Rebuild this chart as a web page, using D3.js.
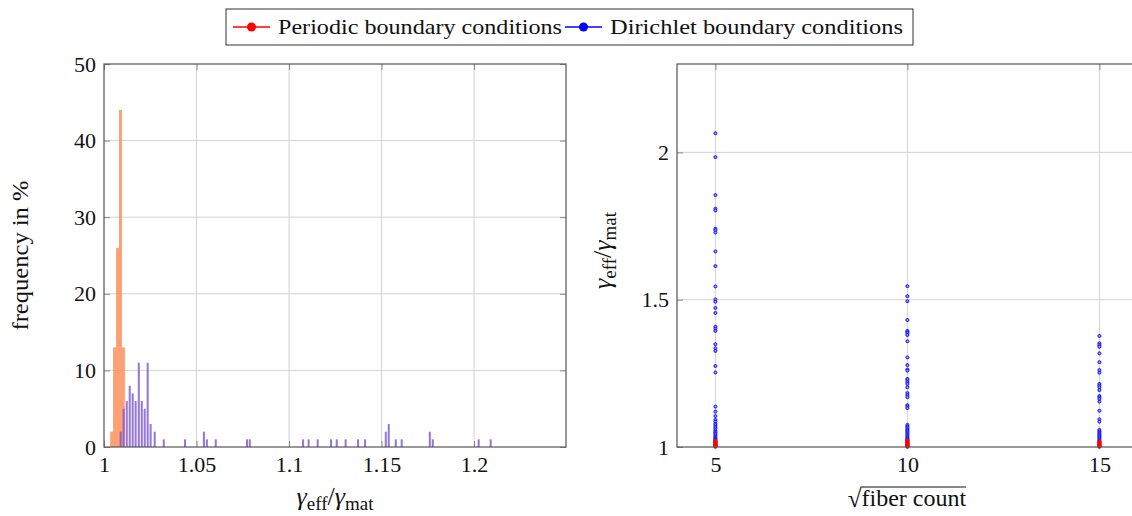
<!DOCTYPE html>
<html>
<head>
<meta charset="utf-8">
<script src="https://cdn.jsdelivr.net/npm/d3@7"></script>
<style>
  body { margin: 0; background: #fff; }
  svg text { font-family: "Liberation Serif", "DejaVu Serif", serif !important; fill: #111; }
</style>
</head>
<body>
<svg id="chart" width="1132" height="516"></svg>
<script>
// ---- histogram (left) ----
const periodicBins = [1.0041, 1.0057, 1.0073, 1.0089, 1.0105];
const periodicFreq = [2, 13, 26, 44, 13];
const dirichletBins = [1.0090, 1.0106, 1.0123, 1.0139, 1.0155, 1.0171, 1.0188, 1.0204, 1.0220, 1.0236, 1.0252, 1.0274, 1.0323,
  1.0438, 1.0540, 1.0556, 1.0604, 1.0773, 1.0788, 1.1076, 1.1106, 1.1155, 1.1227, 1.1258, 1.1306, 1.1373, 1.1411,
  1.1523, 1.1539, 1.1577, 1.1609, 1.1761, 1.1777, 1.2025, 1.2090];
const dirichletFreq = [2, 5, 6, 8, 7, 6, 11, 6, 5, 11, 3, 2, 1,
  1, 2, 1, 1, 1, 1, 1, 1, 1, 1, 1, 1, 1, 1,
  2, 3, 1, 1, 2, 1, 1, 1];
const histXTicks = [1, 1.05, 1.1, 1.15, 1.2];
const histYTicks = [0, 10, 20, 30, 40, 50];

// ---- scatter (right) ----
const fiberCounts = [5, 10, 15];
const periodicRatio = {
  5: [1.001, 1.003, 1.005, 1.006, 1.008, 1.010, 1.012, 1.014, 1.017, 1.020],
  10: [1.001, 1.002, 1.004, 1.006, 1.009, 1.011, 1.013, 1.016, 1.019, 1.022],
  15: [1.001, 1.003, 1.004, 1.006, 1.008, 1.010, 1.012, 1.015, 1.018]
};
const dirichletRatio = {
  5: [2.065, 1.984, 1.855, 1.809, 1.803, 1.741, 1.736, 1.728, 1.664, 1.614, 1.545, 1.501, 1.493, 1.472, 1.455,
      1.408, 1.402, 1.394, 1.349, 1.335, 1.326, 1.275, 1.253, 1.137, 1.120, 1.105, 1.092, 1.086, 1.079, 1.074,
      1.068, 1.063, 1.057, 1.052, 1.048, 1.044, 1.039, 1.035, 1.031, 1.028, 1.025, 1.022, 1.018, 1.014],
  10: [1.546, 1.512, 1.495, 1.431, 1.394, 1.390, 1.386, 1.380, 1.359, 1.304, 1.278, 1.263, 1.259, 1.231, 1.226,
       1.220, 1.214, 1.203, 1.183, 1.176, 1.169, 1.142, 1.137, 1.132, 1.075, 1.070, 1.066, 1.061, 1.057, 1.053,
       1.049, 1.045, 1.041, 1.037, 1.033, 1.029, 1.026, 1.023],
  15: [1.377, 1.352, 1.346, 1.340, 1.318, 1.288, 1.261, 1.252, 1.214, 1.209, 1.203, 1.193, 1.173, 1.168, 1.163,
       1.154, 1.123, 1.094, 1.086, 1.058, 1.053, 1.049, 1.045, 1.041, 1.037, 1.033, 1.029, 1.025, 1.021, 1.018]
};
const scatterXTicks = [5, 10, 15];
const scatterYTicks = [1, 1.5, 2];

const FONT = "'Liberation Serif', 'DejaVu Serif', serif";
const svg = d3.select("#chart").attr("font-family", FONT);
const gridColor = "#d3d3d3";
const frameColor = "#555";
const tickColor = "#888";

// style helper for pgfplots-like inward ticks
function styleAxis(g) {
  g.attr("font-family", FONT);
  g.select(".domain").remove();
  g.selectAll(".tick line").attr("stroke", tickColor);
  g.selectAll(".tick text").style("font-size", "22px").style("font-family", FONT).attr("fill", "#111");
}

// =========== left: histogram ===========
const L = { left: 104, right: 566, top: 64, bottom: 447 };
const hx = d3.scaleLinear().domain([1, 1.2497]).range([L.left, L.right]);
const hy = d3.scaleLinear().domain([0, 50]).range([L.bottom, L.top]);

const hg = svg.append("g");
// grid
hg.selectAll(".vg").data(histXTicks.slice(1)).join("line")
  .attr("x1", d => hx(d)).attr("x2", d => hx(d))
  .attr("y1", L.top).attr("y2", L.bottom)
  .attr("stroke", gridColor);
hg.selectAll(".hg").data(histYTicks.slice(1, -1)).join("line")
  .attr("x1", L.left).attr("x2", L.right)
  .attr("y1", d => hy(d)).attr("y2", d => hy(d))
  .attr("stroke", gridColor);

// bars
const periodicData = periodicBins.map((b, i) => ({ x: b, v: periodicFreq[i] }));
const dirichletData = dirichletBins.map((b, i) => ({ x: b, v: dirichletFreq[i] }));
const pw = 0.0016, dw = 0.0011;
hg.append("g").selectAll("rect").data(periodicData).join("rect")
  .attr("x", d => hx(d.x - pw / 2))
  .attr("width", hx(1 + pw) - hx(1))
  .attr("y", d => hy(d.v))
  .attr("height", d => hy(0) - hy(d.v))
  .attr("fill", "#ff8f5c")
  .attr("fill-opacity", 0.85);
hg.append("g").selectAll("rect").data(dirichletData).join("rect")
  .attr("x", d => hx(d.x - dw / 2))
  .attr("width", hx(1 + dw) - hx(1))
  .attr("y", d => hy(d.v))
  .attr("height", d => hy(0) - hy(d.v))
  .attr("fill", "#7b55cf")
  .attr("fill-opacity", 0.8);

// axes
hg.append("g").attr("transform", `translate(0,${L.bottom})`)
  .call(d3.axisBottom(hx).tickValues(histXTicks).tickFormat(d3.format("")).tickSizeInner(-6).tickSizeOuter(0).tickPadding(9))
  .call(styleAxis);
hg.append("g").attr("transform", `translate(0,${L.top})`)
  .call(d3.axisTop(hx).tickValues(histXTicks).tickFormat("").tickSizeInner(-6).tickSizeOuter(0))
  .call(styleAxis);
hg.append("g").attr("transform", `translate(${L.left},0)`)
  .call(d3.axisLeft(hy).tickValues(histYTicks).tickSizeInner(-6).tickSizeOuter(0).tickPadding(8))
  .call(styleAxis);
hg.append("g").attr("transform", `translate(${L.right},0)`)
  .call(d3.axisRight(hy).tickValues(histYTicks).tickFormat("").tickSizeInner(-6).tickSizeOuter(0))
  .call(styleAxis);
hg.append("rect")
  .attr("x", L.left).attr("y", L.top)
  .attr("width", L.right - L.left).attr("height", L.bottom - L.top)
  .attr("fill", "none").attr("stroke", frameColor).attr("stroke-width", 1.2);

// gamma ratio label helper
function gammaLabel(sel) {
  sel.style("font-family", FONT);
  sel.append("tspan").attr("font-style", "italic").text("γ");
  sel.append("tspan").attr("baseline-shift", "-25%").style("font-size", "19px").text("eff");
  sel.append("tspan").text("/");
  sel.append("tspan").attr("font-style", "italic").text("γ");
  sel.append("tspan").attr("baseline-shift", "-25%").style("font-size", "19px").text("mat");
}

hg.append("text")
  .attr("x", (L.left + L.right) / 2).attr("y", 505)
  .attr("text-anchor", "middle").style("font-size", "26px")
  .call(gammaLabel);
hg.append("text")
  .attr("transform", `translate(28,${(L.top + L.bottom) / 2}) rotate(-90)`)
  .attr("text-anchor", "middle").style("font-size", "23px").style("font-family", FONT)
  .attr("textLength", 150).attr("lengthAdjust", "spacingAndGlyphs")
  .text("frequency in %");

// =========== right: scatter ===========
const R = { left: 677, right: 1137.8, top: 64, bottom: 447 };
const sx = d3.scaleLinear().domain([4, 16]).range([R.left, R.right]);
const sy = d3.scaleLinear().domain([1, 2.3]).range([R.bottom, R.top]);

const sg = svg.append("g");
sg.selectAll(".vg").data(scatterXTicks).join("line")
  .attr("x1", d => sx(d)).attr("x2", d => sx(d))
  .attr("y1", R.top).attr("y2", R.bottom)
  .attr("stroke", gridColor);
sg.selectAll(".hg").data(scatterYTicks.slice(1)).join("line")
  .attr("x1", R.left).attr("x2", R.right)
  .attr("y1", d => sy(d)).attr("y2", d => sy(d))
  .attr("stroke", gridColor);

sg.append("g").attr("transform", `translate(0,${R.bottom})`)
  .call(d3.axisBottom(sx).tickValues(scatterXTicks).tickSizeInner(-6).tickSizeOuter(0).tickPadding(9))
  .call(styleAxis);
sg.append("g").attr("transform", `translate(0,${R.top})`)
  .call(d3.axisTop(sx).tickValues(scatterXTicks).tickFormat("").tickSizeInner(-6).tickSizeOuter(0))
  .call(styleAxis);
sg.append("g").attr("transform", `translate(${R.left},0)`)
  .call(d3.axisLeft(sy).tickValues(scatterYTicks).tickFormat(d3.format("")).tickSizeInner(-6).tickSizeOuter(0).tickPadding(8))
  .call(styleAxis);

// points
const dirPts = fiberCounts.flatMap(n => dirichletRatio[n].map(v => ({ n, v })));
const perPts = fiberCounts.flatMap(n => periodicRatio[n].map(v => ({ n, v })));
sg.append("g").selectAll("circle").data(dirPts).join("circle")
  .attr("cx", d => sx(d.n)).attr("cy", d => sy(d.v)).attr("r", 1.5)
  .attr("fill", "#9a9aff").attr("stroke", "#0000ff").attr("stroke-width", 0.9);
sg.append("g").selectAll("circle").data(perPts).join("circle")
  .attr("cx", d => sx(d.n)).attr("cy", d => sy(d.v)).attr("r", 1.8)
  .attr("fill", "#ff0000").attr("stroke", "#ff0000").attr("stroke-width", 0.6);

sg.append("rect")
  .attr("x", R.left).attr("y", R.top)
  .attr("width", R.right - R.left).attr("height", R.bottom - R.top)
  .attr("fill", "none").attr("stroke", frameColor).attr("stroke-width", 1.2);

sg.append("text")
  .attr("transform", `translate(611,${(R.top + R.bottom) / 2 - 5}) rotate(-90)`)
  .attr("text-anchor", "middle").style("font-size", "26px")
  .call(gammaLabel);

// sqrt(fiber count) label
const sqLabel = sg.append("g");
const sqrtSign = sqLabel.append("text").attr("y", 507).style("font-size", "25px").style("font-family", FONT).text("√");
const sqText = sqLabel.append("text").attr("y", 506).style("font-size", "24px").style("font-family", FONT).text("fiber count");
const sw = sqrtSign.node().getComputedTextLength();
const tw = sqText.node().getComputedTextLength();
const startX = 907 - (sw + tw) / 2;
sqrtSign.attr("x", startX);
sqText.attr("x", startX + sw);
sqLabel.append("line")
  .attr("x1", startX + sw - 1).attr("x2", startX + sw + tw)
  .attr("y1", 487).attr("y2", 487)
  .attr("stroke", "#111").attr("stroke-width", 1);

// =========== legend ===========
const legendItems = [
  { label: "Periodic boundary conditions", color: "#ff0000", x: 233, w: 284 },
  { label: "Dirichlet boundary conditions", color: "#0000ff", x: 565, w: 293 }
];
const lg = svg.append("g");
lg.append("rect")
  .attr("x", 226).attr("y", 9).attr("width", 687).attr("height", 36)
  .attr("fill", "#fff").attr("stroke", "#333").attr("stroke-width", 1);
legendItems.forEach(item => {
  lg.append("line").attr("x1", item.x).attr("x2", item.x + 37).attr("y1", 27).attr("y2", 27)
    .attr("stroke", item.color).attr("stroke-width", 1.5);
  lg.append("circle").attr("cx", item.x + 18.5).attr("cy", 27).attr("r", 4.5).attr("fill", item.color);
  lg.append("text").attr("x", item.x + 45).attr("y", 34)
    .style("font-size", "22px").style("font-family", FONT)
    .attr("textLength", item.w).attr("lengthAdjust", "spacingAndGlyphs")
    .text(item.label);
});
</script>
</body>
</html>
